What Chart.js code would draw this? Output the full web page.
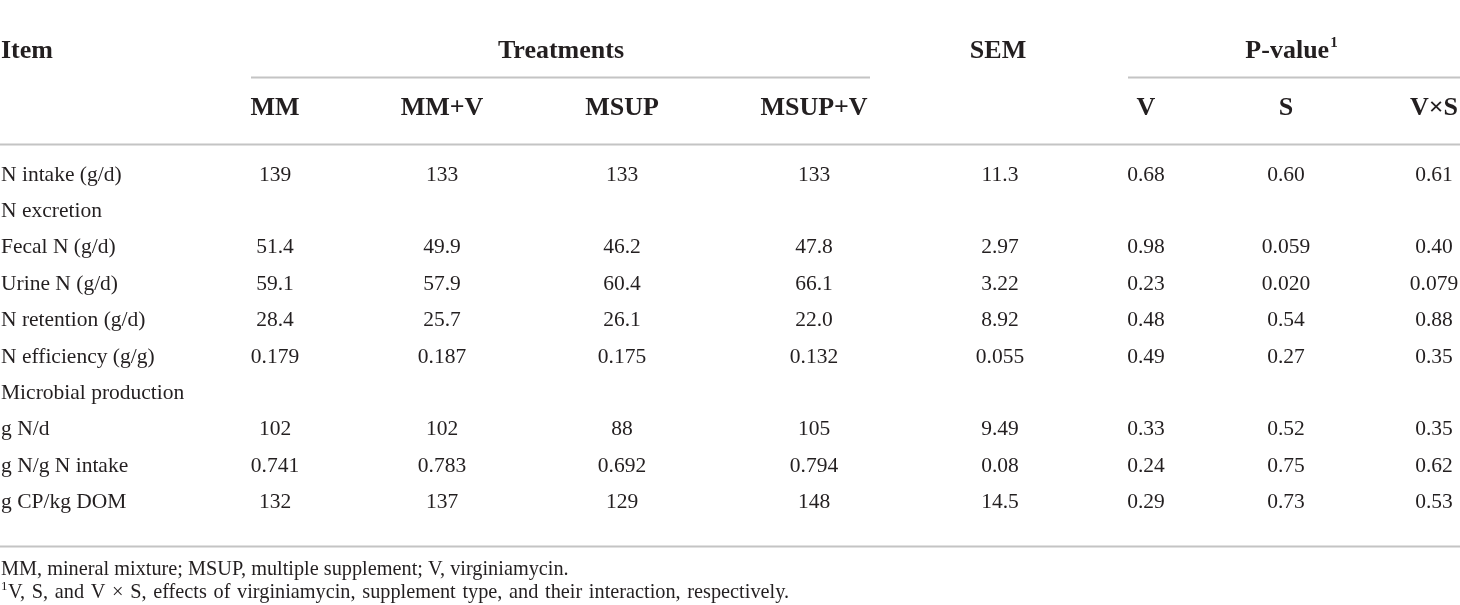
<!DOCTYPE html>
<html>
<head>
<meta charset="utf-8">
<script src="https://cdn.jsdelivr.net/npm/chart.js@4.4.1/dist/chart.umd.min.js"></script>
<style>
    html, body { margin: 0; background: #fff; }
    #wrap { width: 1460px; height: 605px; }
</style>
</head>
<body>
<div id="wrap"><canvas id="nitrogenTable" width="1460" height="605"></canvas></div>
<script>
// table content, rows top to bottom; section labels have no values
const rowLabels = [
    'N intake (g/d)', 'N excretion', 'Fecal N (g/d)', 'Urine N (g/d)', 'N retention (g/d)',
    'N efficiency (g/g)', 'Microbial production', 'g N/d', 'g N/g N intake', 'g CP/kg DOM',
];
const treatments = ['MM', 'MM+V', 'MSUP', 'MSUP+V'];
const effects = ['V', 'S', 'V×S'];

const mm    = ['139', null, '51.4', '59.1', '28.4', '0.179', null, '102', '0.741', '132'];
const mmV   = ['133', null, '49.9', '57.9', '25.7', '0.187', null, '102', '0.783', '137'];
const msup  = ['133', null, '46.2', '60.4', '26.1', '0.175', null, '88', '0.692', '129'];
const msupV = ['133', null, '47.8', '66.1', '22.0', '0.132', null, '105', '0.794', '148'];
const sem   = ['11.3', null, '2.97', '3.22', '8.92', '0.055', null, '9.49', '0.08', '14.5'];
const pV    = ['0.68', null, '0.98', '0.23', '0.48', '0.49', null, '0.33', '0.24', '0.29'];
const pS    = ['0.60', null, '0.059', '0.020', '0.54', '0.27', null, '0.52', '0.75', '0.73'];
const pVxS  = ['0.61', null, '0.40', '0.079', '0.88', '0.35', null, '0.35', '0.62', '0.53'];

const footnote1 = 'MM, mineral mixture; MSUP, multiple supplement; V, virginiamycin.';
const footnote2 = 'V, S, and V × S, effects of virginiamycin, supplement type, and their interaction, respectively.';

// layout: x in canvas-width units, y in row units (row 0 = first data row)
const rowPx = 36.4;
const firstRowPx = 175;
const rowOf = (px) => (px - firstRowPx) / rowPx;

const valueCols = [mm, mmV, msup, msupV, sem, pV, pS, pVxS];
const colX = [275, 442, 622, 814, 1000, 1146, 1286, 1434];
const itemX = 1;
const headRow1 = rowOf(51);
const headRow2 = rowOf(108.5);
const ruleGroup = rowOf(77);
const ruleHead = rowOf(144);
const ruleFoot = rowOf(546);
const noteRow1 = rowOf(570);
const noteRow2 = rowOf(593);

const textColor = '#231f20';
const ruleColor = '#c4c4c4';
const serif = '"Liberation Serif", "DejaVu Serif", serif';
const bodyFont = `21.5px ${serif}`;
const headFont = `bold 26px ${serif}`;
const noteFont = `20.3px ${serif}`;

const datasets = [{
    label: 'Item',
    align: 'left',
    data: rowLabels.map((text, i) => ({ x: itemX, y: i, text })),
}];
valueCols.forEach((col, c) => {
    datasets.push({
        label: c < 4 ? treatments[c] : (c === 4 ? 'SEM' : effects[c - 5]),
        align: 'center',
        data: col.map((text, i) => (text === null ? null : { x: colX[c], y: i, text })).filter(Boolean),
    });
});

function rule(ctx, x, y, x0, x1, row) {
    const py = Math.round(y.getPixelForValue(row)) + 0.5;
    ctx.beginPath();
    ctx.moveTo(x.getPixelForValue(x0), py);
    ctx.lineTo(x.getPixelForValue(x1), py);
    ctx.stroke();
}

function withSup(ctx, text, sup, px, py, font, supFont) {
    ctx.font = font;
    const w = ctx.measureText(text).width;
    ctx.font = supFont;
    const ws = ctx.measureText(sup).width;
    const start = px - (w + ws) / 2;
    ctx.textAlign = 'left';
    ctx.font = font;
    ctx.fillText(text, start, py);
    ctx.font = supFont;
    ctx.fillText(sup, start + w + 1, py - 8);
}

const tablePlugin = {
    id: 'tableText',
    afterDatasetsDraw(chart) {
        const { ctx } = chart;
        const { x, y } = chart.scales;
        ctx.save();
        ctx.fillStyle = textColor;
        ctx.textBaseline = 'middle';

        chart.data.datasets.forEach((ds, i) => {
            ctx.font = bodyFont;
            ctx.textAlign = ds.align;
            chart.getDatasetMeta(i).data.forEach((pt, j) => {
                ctx.fillText(ds.data[j].text, pt.x, pt.y);
            });
        });

        // header
        ctx.font = headFont;
        ctx.textAlign = 'left';
        ctx.fillText('Item', x.getPixelForValue(itemX), y.getPixelForValue(headRow1));
        ctx.textAlign = 'center';
        ctx.fillText('Treatments', x.getPixelForValue(561), y.getPixelForValue(headRow1));
        ctx.fillText('SEM', x.getPixelForValue(998), y.getPixelForValue(headRow1));
        treatments.forEach((t, c) => ctx.fillText(t, x.getPixelForValue(colX[c]), y.getPixelForValue(headRow2)));
        effects.forEach((t, c) => ctx.fillText(t, x.getPixelForValue(colX[c + 5]), y.getPixelForValue(headRow2)));
        withSup(ctx, 'P-value', '1', x.getPixelForValue(1291), y.getPixelForValue(headRow1),
            headFont, `bold 15px ${serif}`);

        // footnotes
        ctx.font = noteFont;
        ctx.textAlign = 'left';
        ctx.fillText(footnote1, x.getPixelForValue(itemX), y.getPixelForValue(noteRow1));
        ctx.font = `13px ${serif}`;
        ctx.fillText('1', x.getPixelForValue(itemX), y.getPixelForValue(noteRow2) - 6);
        ctx.font = noteFont;
        ctx.wordSpacing = '1.6px';
        ctx.fillText(footnote2, x.getPixelForValue(itemX) + 7, y.getPixelForValue(noteRow2));
        ctx.wordSpacing = '0px';

        // rules
        ctx.strokeStyle = ruleColor;
        ctx.lineWidth = 2;
        rule(ctx, x, y, 251, 870, ruleGroup);
        rule(ctx, x, y, 1128, 1460, ruleGroup);
        rule(ctx, x, y, 0, 1460, ruleHead);
        rule(ctx, x, y, 0, 1460, ruleFoot);
        ctx.restore();
    },
};

new Chart(document.getElementById('nitrogenTable'), {
    type: 'scatter',
    data: { datasets },
    options: {
        responsive: false,
        animation: false,
        devicePixelRatio: 1,
        layout: { padding: 0 },
        elements: { point: { radius: 0, hoverRadius: 0 } },
        plugins: { legend: { display: false }, tooltip: { enabled: false } },
        events: [],
        scales: {
            x: { type: 'linear', display: false, min: 0, max: 1460 },
            y: { type: 'linear', display: false, reverse: true, min: rowOf(0), max: rowOf(605) },
        },
    },
    plugins: [tablePlugin],
});
</script>
</body>
</html>
